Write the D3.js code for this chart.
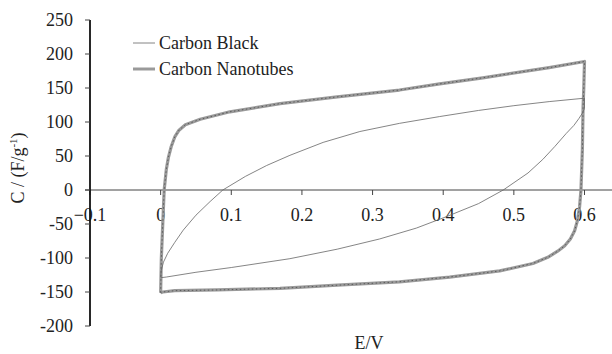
<!DOCTYPE html>
<html><head><meta charset="utf-8">
<script src="https://cdn.jsdelivr.net/npm/d3@7"></script>
<style>body{margin:0;background:#fff}svg{display:block}</style>
</head><body>
<svg id="c" width="612" height="354" font-family="'Liberation Serif', 'DejaVu Serif', serif"></svg>
<script>
// Data (E in V, C in F/g)
const xTicks = [-0.1, 0, 0.1, 0.2, 0.3, 0.4, 0.5, 0.6];
const yTicks = [250, 200, 150, 100, 50, 0, -50, -100, -150, -200];
const seriesNames = ["Carbon Black", "Carbon Nanotubes"];
const cbE = [0, 0.001, 0.004, 0.01, 0.02, 0.032, 0.05, 0.07, 0.088, 0.12, 0.15, 0.183, 0.23, 0.282, 0.338, 0.395, 0.45, 0.5, 0.55, 0.6,
             0.6, 0.597, 0.592, 0.585, 0.574, 0.558, 0.541, 0.52, 0.485, 0.45, 0.405, 0.362, 0.31, 0.25, 0.183, 0.1, 0.05, 0.008, 0];
const cbC = [-128, -118, -106, -93, -77, -59, -37, -17, 0, 20, 36, 51, 70, 86, 98, 108, 117, 124, 130, 135,
             120, 113, 105, 95, 83, 64, 45, 25, 0, -20, -39, -56, -72, -87, -101, -114, -121, -128, -129];
const cntE = [0, 0.001, 0.003, 0.005, 0.008, 0.011, 0.015, 0.02, 0.026, 0.035, 0.056, 0.098, 0.169, 0.25, 0.338, 0.395, 0.456, 0.55, 0.6,
              0.599, 0.598, 0.597, 0.595, 0.593, 0.59, 0.586, 0.58, 0.572, 0.562, 0.548, 0.527, 0.48, 0.409, 0.338, 0.25, 0.169, 0.08, 0.02, 0.003, 0];
const cntC = [-151, -100, -50, 0, 30, 48, 64, 78, 88, 96, 104, 115, 127, 137, 147, 156, 165, 180, 189,
              150, 122, 60, 0, -25, -45, -60, -72, -82, -90, -99, -108, -119, -128, -135, -140, -144.6, -147, -148, -150, -151];

const svg = d3.select("#c");
const x = d3.scaleLinear().domain([-0.1, 0.6]).range([90, 584.5]);
const y = d3.scaleLinear().domain([-200, 250]).range([326, 20]);

// x axis line at C=0
svg.append("line").attr("x1", 85).attr("x2", 612).attr("y1", y(0)).attr("y2", y(0))
  .attr("stroke", "#444").attr("stroke-width", 1);
xTicks.forEach(t => {
  svg.append("line").attr("x1", x(t)).attr("x2", x(t)).attr("y1", y(0)).attr("y2", y(0) + 5)
    .attr("stroke", "#444").attr("stroke-width", 1);
  svg.append("text").attr("x", x(t)).attr("y", 221).attr("text-anchor", "middle")
    .attr("font-size", 18).attr("fill", "#222").text(t === 0 ? "0" : d3.format(".1f")(t));
});
// y axis
svg.append("line").attr("x1", 90).attr("x2", 90).attr("y1", y(250)).attr("y2", y(-200))
  .attr("stroke", "#111").attr("stroke-width", 1.8);
yTicks.forEach(t => {
  svg.append("line").attr("x1", 85).attr("x2", 90).attr("y1", y(t)).attr("y2", y(t))
    .attr("stroke", "#444").attr("stroke-width", 1);
  svg.append("text").attr("x", 73).attr("y", y(t) + 6).attr("text-anchor", "end")
    .attr("font-size", 18).attr("fill", "#222").text(String(t));
});

const line = d3.line().x(d => x(d[0])).y(d => y(d[1]));
const cb = cbE.map((e, i) => [e, cbC[i]]);
const cnt = cntE.map((e, i) => [e, cntC[i]]);

svg.append("path").attr("d", line(cnt)).attr("fill", "none")
  .attr("stroke", "#9a9a9a").attr("stroke-width", 3.2).attr("stroke-linejoin", "round");
svg.append("path").attr("d", line(cnt)).attr("fill", "none")
  .attr("stroke", "#5a5a5a").attr("stroke-width", 1).attr("stroke-dasharray", "1.5,2.5");
svg.append("path").attr("d", line(cb)).attr("fill", "none")
  .attr("stroke", "#666").attr("stroke-width", 0.8).attr("stroke-linejoin", "round");

// legend
const leg = [{n: seriesNames[0], y: 43, w: 0.8, c: "#666"}, {n: seriesNames[1], y: 69, w: 3, c: "#9a9a9a"}];
leg.forEach(l => {
  svg.append("line").attr("x1", 133).attr("x2", 155).attr("y1", l.y).attr("y2", l.y)
    .attr("stroke", l.c).attr("stroke-width", l.w);
  svg.append("text").attr("x", 159).attr("y", l.y + 6).attr("font-size", 18).attr("fill", "#222").text(l.n);
});

// axis titles
svg.append("text").attr("x", 369).attr("y", 349).attr("text-anchor", "middle").attr("font-size", 18).attr("fill", "#222").text("E/V");
const yt = svg.append("text").attr("transform", "translate(24,168) rotate(-90)")
  .attr("text-anchor", "middle").attr("font-size", 18).attr("fill", "#222");
yt.append("tspan").text("C / (F/g");
yt.append("tspan").attr("dy", -7).attr("font-size", 11).text("-1");
yt.append("tspan").attr("dy", 7).text(")");
</script>
</body></html>
